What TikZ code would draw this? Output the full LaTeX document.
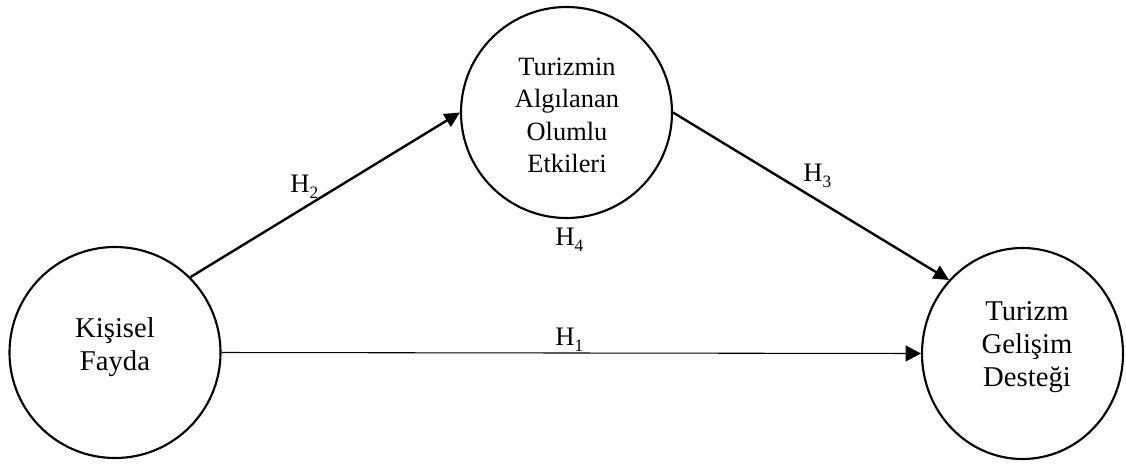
\documentclass[tikz,border=0pt]{standalone}
\usepackage{fontspec}
\setmainfont{Liberation Serif}
\usetikzlibrary{arrows.meta,shapes.geometric}
\newcommand{\hsub}[1]{H\raisebox{-4.5pt}{\fontsize{13}{13}\selectfont #1}}
\begin{document}
\begin{tikzpicture}[x=0.75pt,y=-0.75pt,
  var/.style={circle,draw,line width=1.6pt,minimum size=158.25pt,inner sep=0pt,outer sep=0.8pt},
  evar/.style={ellipse,draw,line width=1.6pt,minimum width=150.75pt,minimum height=158.25pt,inner sep=0pt,outer sep=0.8pt},
  txt/.style={align=center,font=\fontsize{21.5}{25}\selectfont,inner sep=0pt},
  txtsmall/.style={align=center,font=\fontsize{19.8}{24.2}\selectfont,inner sep=0pt},
  hlab/.style={anchor=base west,inner sep=0pt,font=\fontsize{20}{24}\selectfont},
  thickarrow/.style={line width=1.8pt,-{Triangle[length=11.5pt,width=11pt]}},
  thinarrow/.style={line width=0.8pt,-{Triangle[length=11.5pt,width=12pt]}}]
\useasboundingbox (0,0) rectangle (1126,464);
\node[var] (kf) at (115,352.5) {};
\node[var] (tao) at (566.5,112.5) {};
\node[evar] (tgd) at (1022.5,353.5) {};
\node[txt] (kft) at (115,347) {Kişisel\\Fayda};
\node[txtsmall] (taot) at (567,115.5) {Turizmin\\Algılanan\\Olumlu\\Etkileri};
\node[txt] (tgdt) at (1027,347) {Turizm\\Gelişim\\Desteği};
\draw[thickarrow] (kf.45) -- (tao.west);
\draw[thickarrow] (tao.east) -- (tgd.135);
\draw[thinarrow] (kf.east) -- (tgd.west);
\node[hlab] (h2) at (290,192) {\hsub{2}};
\node[hlab] (h3) at (803,181) {\hsub{3}};
\node[hlab] (h4) at (555,245) {\hsub{4}};
\node[hlab] (h1) at (555,345) {\hsub{1}};
\end{tikzpicture}
\end{document}
